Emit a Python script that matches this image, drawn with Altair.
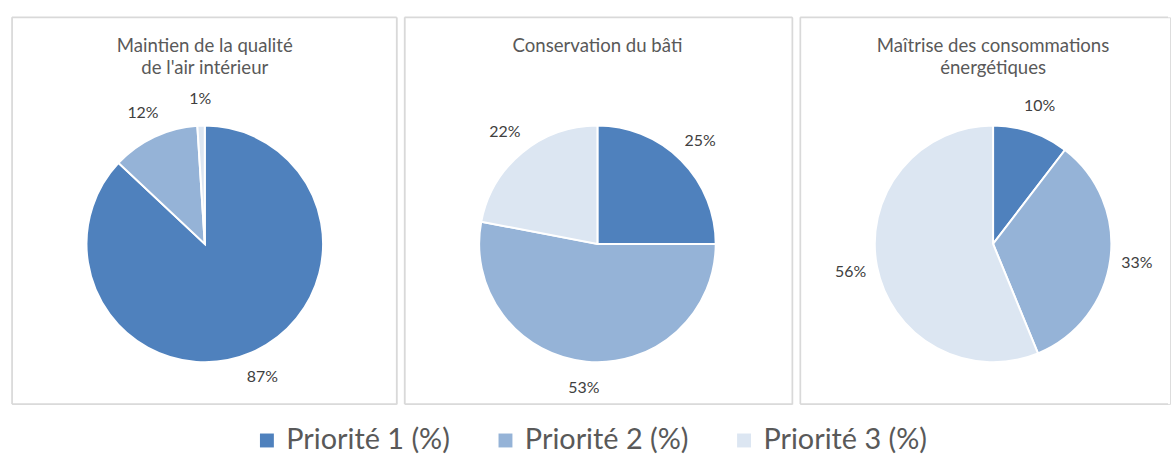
import altair as alt
import pandas as pd

# ---- data ----
titles = [
    "Maintien de la qualité\nde l'air intérieur",
    "Conservation du bâti",
    "Maîtrise des consommations\nénergétiques",
]
categories = ["Priorité 1 (%)", "Priorité 2 (%)", "Priorité 3 (%)"]
values_air = [87, 12, 1]
values_bati = [25, 53, 22]
values_energie = [10.4, 33.4, 56.2]
colors = ["#4F81BD", "#95B3D7", "#DCE6F2"]

all_values = [values_air, values_bati, values_energie]

rows = []
for p, vals in enumerate(all_values):
    for i, (c, v) in enumerate(zip(categories, vals)):
        rows.append({"panel": p, "cat": c, "value": v, "order": i})
df = pd.DataFrame(rows)

PANEL_H = 389
CX, CY = 194, 228
PIE_R = 119
LABEL_R = 146
BORDER = "#D9D9D9"
FONT = "Lato"

legend = alt.Legend(
    orient="none", legendX=242, legendY=411, direction="horizontal",
    title=None, labelFontSize=29, labelFont=FONT, labelColor="#595959",
    symbolType="square", symbolSize=196, symbolStrokeWidth=0,
    labelOffset=5, columnPadding=41, labelLimit=400,
)
color = alt.Color("cat:N", scale=alt.Scale(domain=categories, range=colors), legend=legend)


def make_panel(p, width, open_right=False):
    base = alt.Chart(df).transform_filter(alt.datum.panel == p)
    theta = alt.Theta("value:Q", stack=True)
    order = alt.Order("order:Q")
    arcs = base.mark_arc(radius=PIE_R, stroke="white", strokeWidth=2).encode(
        theta=theta, order=order, color=color,
        x=alt.value(CX), y=alt.value(CY),
    )
    labels = base.transform_calculate(
        label="format(datum.value, '.0f') + '%'"
    ).mark_text(radius=LABEL_R, fontSize=16, font=FONT, color="#404040").encode(
        theta=theta, order=order, text="label:N",
        x=alt.value(CX), y=alt.value(CY),
    )
    title = alt.Chart(alt.Data(values=[{"t": titles[p]}])).mark_text(
        font=FONT, fontSize=18.7, color="#595959", lineBreak="\n", lineHeight=22.5,
        baseline="alphabetic", align="center",
    ).encode(text="t:N", x=alt.value(CX), y=alt.value(35))

    one = alt.Data(values=[{"k": 0}])
    xr = width - 2 if open_right else width
    top = alt.Chart(one).mark_rule(color=BORDER, strokeWidth=1.5).encode(
        x=alt.value(0), x2=alt.value(xr), y=alt.value(0))
    bottom = alt.Chart(one).mark_rule(color=BORDER, strokeWidth=1.5).encode(
        x=alt.value(0), x2=alt.value(xr), y=alt.value(PANEL_H))
    left = alt.Chart(one).mark_rule(color=BORDER, strokeWidth=1.5).encode(
        x=alt.value(0), y=alt.value(0), y2=alt.value(PANEL_H))
    layers = [top, bottom, left]
    if not open_right:
        right = alt.Chart(one).mark_rule(color=BORDER, strokeWidth=1.5).encode(
            x=alt.value(width), y=alt.value(0), y2=alt.value(PANEL_H))
        layers.append(right)
    layers += [arcs, labels, title]
    return alt.layer(*layers).properties(width=width, height=PANEL_H)


chart = alt.hconcat(
    make_panel(0, 387),
    make_panel(1, 390),
    make_panel(2, 372, open_right=True),
    spacing=4,
).resolve_scale(theta="independent").properties(
    padding={"left": 10, "top": 14, "right": 0, "bottom": 0}
).configure_view(strokeOpacity=0, strokeWidth=0).configure(background="white")

chart.save("out.html", embed_options={"renderer": "svg", "actions": False})
